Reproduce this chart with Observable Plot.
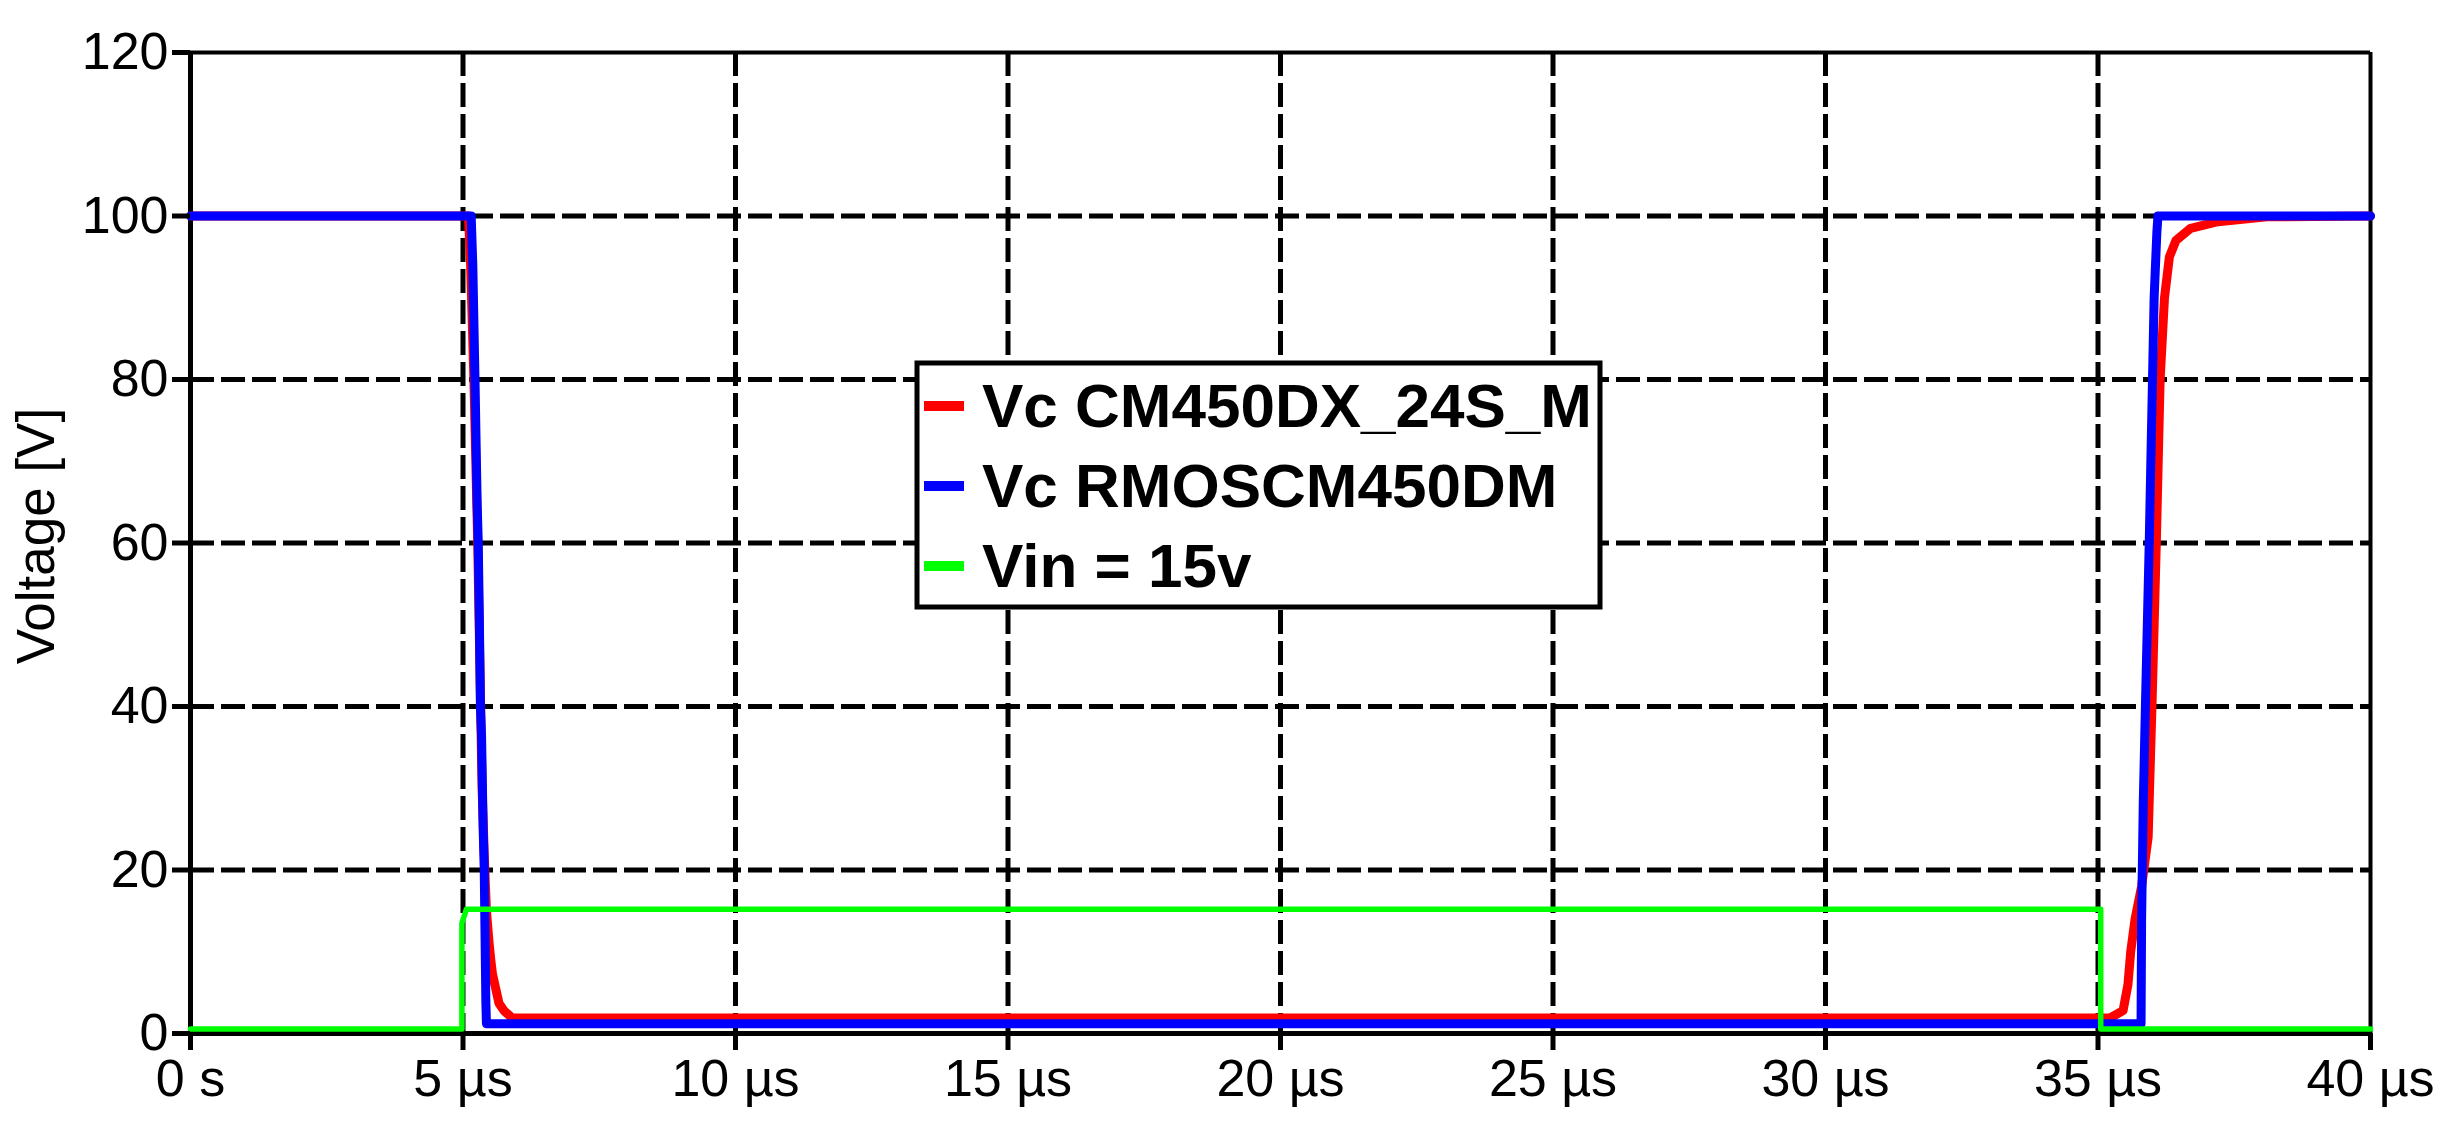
<!DOCTYPE html>
<html>
<head>
<meta charset="utf-8">
<script src="https://cdn.jsdelivr.net/npm/d3@7"></script>
<script src="https://cdn.jsdelivr.net/npm/@observablehq/plot@0.6"></script>
<style>
  html, body { margin: 0; padding: 0; background: #fff; overflow: hidden; }
  svg { display: block; }
</style>
</head>
<body>
<div id="chart"></div>
<script>
// ---- Data (time in µs, voltage in V) ----
const seriesNames = ["Vc CM450DX_24S_M", "Vc RMOSCM450DM", "Vin = 15v"];
const seriesColors = ["#ff0000", "#0000ff", "#00ff00"];

const tRed = [0, 5.1, 5.14, 5.2, 5.27, 5.31, 5.35, 5.4, 5.43, 5.48, 5.51, 5.54, 5.6, 5.66, 5.75, 5.9,
              35.22, 35.46, 35.55, 35.6, 35.68, 35.8, 35.92, 35.99, 36.07, 36.14, 36.22, 36.31, 36.43, 36.7, 37.2, 38.1, 40];
const vRed = [100, 100, 94, 80, 60, 45, 30, 20, 15, 11, 9, 7.3, 5.5, 3.7, 2.8, 1.9,
              1.9, 2.8, 6, 10, 14, 18, 24, 40, 60, 80, 90, 95, 97, 98.5, 99.3, 99.9, 100];

const tBlue = [0, 5.15, 5.18, 5.22, 5.26, 5.28, 5.3, 5.32, 5.34, 5.37, 5.39, 5.4, 5.42, 5.43,
               35.79, 35.8, 35.83, 35.87, 35.94, 36.0, 36.03, 36.08, 36.1, 40];
const vBlue = [100, 100, 94, 80, 64.8, 60, 50.7, 40, 36.5, 25, 20, 14.3, 3.7, 1.2,
               1.2, 14, 28, 40, 60, 80, 90, 98, 100, 100];

const tGreen = [0, 4.98, 4.98, 5.03, 5.06, 35.05, 35.05, 40];
const vGreen = [0.55, 0.55, 13.5, 14.5, 15.2, 15.2, 0.55, 0.55];

const xTicks = [0, 5, 10, 15, 20, 25, 30, 35, 40];
const xTickLabels = ["0 s", "5 µs", "10 µs", "15 µs", "20 µs", "25 µs", "30 µs", "35 µs", "40 µs"];
const yTicks = [0, 20, 40, 60, 80, 100, 120];
const xGrid = [5, 10, 15, 20, 25, 30, 35];
const yGrid = [20, 40, 60, 80, 100];
const yLabel = "Voltage [V]";

const rows = (t, v) => t.map((d, i) => ({t: d, v: v[i]}));
const redRows = rows(tRed, vRed);
const blueRows = rows(tBlue, vBlue);
const greenRows = rows(tGreen, vGreen);

const W = 2462, H = 1135;
const font = "'Liberation Sans', Arial, sans-serif";

const chart = Plot.plot({
  width: W, height: H,
  marginLeft: 190, marginRight: 92, marginTop: 52, marginBottom: 102,
  style: {fontFamily: font, fontSize: "52px", color: "#000", background: "#fff"},
  x: {domain: [0, 40]},
  y: {domain: [0, 120]},
  marks: [
    Plot.ruleX(xGrid, {stroke: "#000", strokeWidth: 5, strokeDasharray: "24,7"}),
    Plot.ruleY(yGrid, {stroke: "#000", strokeWidth: 5, strokeDasharray: "24,7"}),
    Plot.ruleY([120], {stroke: "#000", strokeWidth: 4}),
    Plot.ruleX([40], {stroke: "#000", strokeWidth: 4}),
    Plot.ruleX([0], {stroke: "#000", strokeWidth: 5}),
    Plot.ruleY([0], {stroke: "#000", strokeWidth: 5}),
    Plot.line(redRows, {x: "t", y: "v", stroke: seriesColors[0], strokeWidth: 9}),
    Plot.line(blueRows, {x: "t", y: "v", stroke: seriesColors[1], strokeWidth: 9}),
    Plot.line(greenRows, {x: "t", y: "v", stroke: seriesColors[2], strokeWidth: 5.5}),
    Plot.axisY({ticks: yTicks, tickSize: 18, tickPadding: 4, strokeWidth: 5, label: null, fontSize: 52}),
    Plot.axisX({ticks: xTicks, tickSize: 17, tickPadding: 9, strokeWidth: 5, label: null, fontSize: 52,
                tickFormat: d => xTickLabels[xTicks.indexOf(d)]})
  ]
});

document.getElementById("chart").appendChild(chart);

// ---- Y axis title ----
const svg = d3.select(chart);
svg.append("text")
  .attr("transform", "translate(54,536) rotate(-90)")
  .attr("text-anchor", "middle")
  .attr("font-family", font)
  .attr("font-size", 53)
  .attr("fill", "#000")
  .text(yLabel);

// ---- Legend box inside the plot ----
const lg = svg.append("g").attr("text-anchor", "start");
lg.append("rect")
  .attr("x", 917).attr("y", 363).attr("width", 683).attr("height", 244)
  .attr("fill", "#fff").attr("stroke", "#000").attr("stroke-width", 5);
seriesNames.forEach((name, i) => {
  lg.append("rect")
    .attr("x", 924).attr("y", 406 + 80 * i - 5)
    .attr("width", 40).attr("height", 10)
    .attr("fill", seriesColors[i]);
  lg.append("text")
    .attr("x", 982).attr("y", 427 + 80 * i)
    .attr("text-anchor", "start")
    .attr("font-family", font)
    .attr("font-weight", "bold")
    .attr("font-size", 62)
    .attr("fill", "#000")
    .text(name);
});
</script>
</body>
</html>
